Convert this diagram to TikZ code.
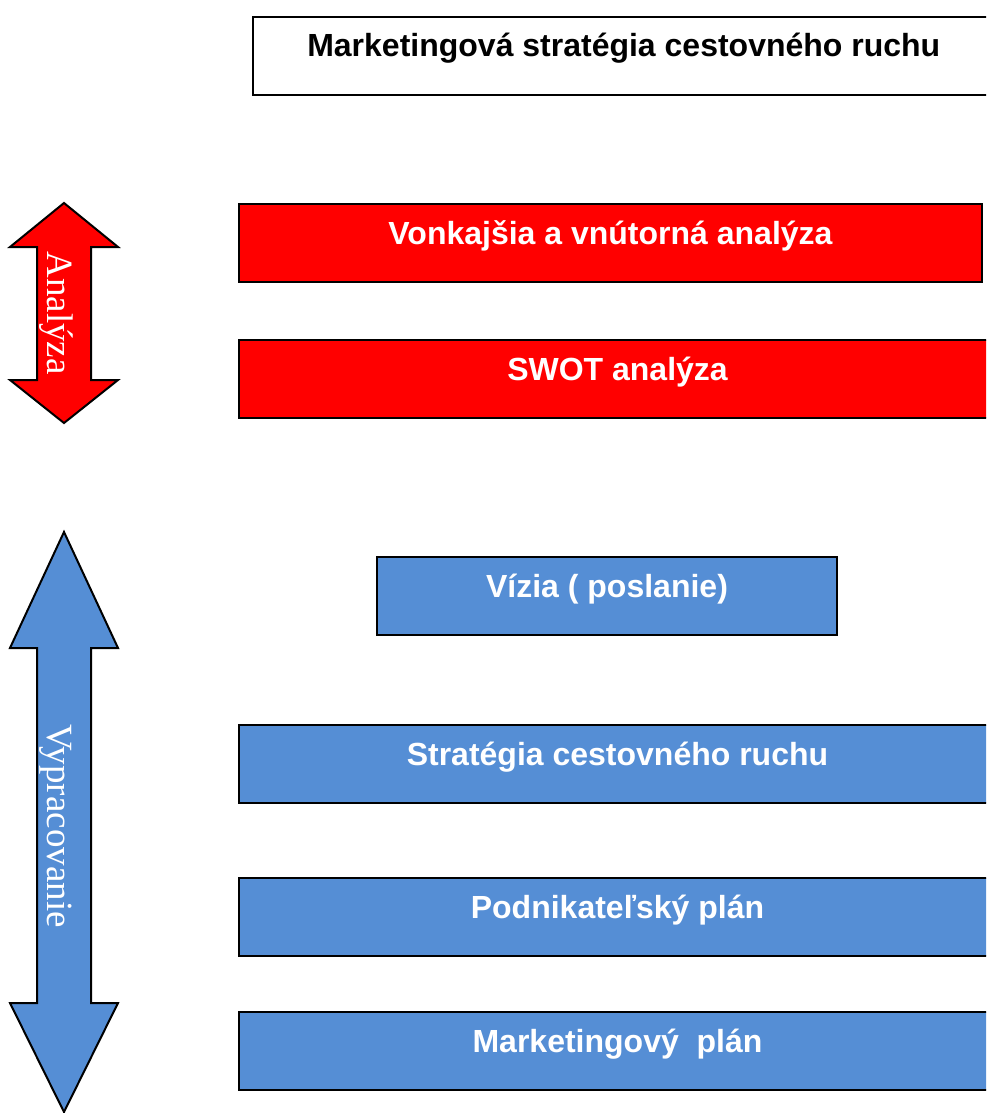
\documentclass[tikz,border=0pt]{standalone}
\usepackage{fontspec}
\setmainfont{Liberation Sans}
\newfontfamily\serifarrow{Liberation Serif}
\definecolor{boxblue}{HTML}{558ED5}
\definecolor{boxred}{HTML}{FF0000}
\begin{document}
\begin{tikzpicture}[x=1pt,y=-1pt,
  stagebox/.style={draw=black,line width=2pt,rectangle,anchor=north west,inner sep=0pt,
    minimum height=78pt,text height=26pt,text depth=24pt,
    font=\fontsize{32}{36}\selectfont\bfseries},
  redbox/.style={stagebox,fill=boxred,text=white},
  bluebox/.style={stagebox,fill=boxblue,text=white},
  titlebox/.style={stagebox,fill=white,text=black,line width=1.6pt},
  arrowtext/.style={text=white,rotate=-90,anchor=base,inner sep=0pt,
    font=\serifarrow\fontsize{37}{40}\selectfont},
  arrowshape/.style={draw=black,line width=2pt,line join=miter}
]
\useasboundingbox (0,0) rectangle (986,1113);
\clip (0,0) rectangle (986,1113);
\fill[white] (0,0) rectangle (986,1113);

% boxes
\node[titlebox,minimum width=742pt] (title) at (252,16) {Marketingová stratégia cestovného ruchu};
\node[redbox,minimum width=743pt] (ext) at (238,203) {Vonkajšia a vnútorná analýza};
\node[redbox,minimum width=757pt] (swot) at (238,339) {SWOT analýza};
\node[bluebox,minimum width=460pt] (vizia) at (376,556) {Vízia ( poslanie)};
\node[bluebox,minimum width=757pt] (strat) at (238,724) {Stratégia cestovného ruchu};
\node[bluebox,minimum width=757pt] (podn) at (238,877) {Podnikateľský plán};
\node[bluebox,minimum width=757pt] (mkt) at (238,1011) {Marketingový~ plán};

% Analyza double arrow
\draw[arrowshape,fill=boxred] (64,203) -- (118,247) -- (91,247) -- (91,380) -- (118,380)
  -- (64,423) -- (10,380) -- (37,380) -- (37,247) -- (10,247) -- cycle;
\node[arrowtext] (analyza) at (47,313) {Analýza};

% Vypracovanie double arrow
\draw[arrowshape,fill=boxblue] (64,532) -- (118,648) -- (91,648) -- (91,1003) -- (118,1003)
  -- (64,1112) -- (10,1003) -- (37,1003) -- (37,648) -- (10,648) -- cycle;
\node[arrowtext] (vypr) at (47,826) {Vypracovanie};
\end{tikzpicture}
\end{document}
